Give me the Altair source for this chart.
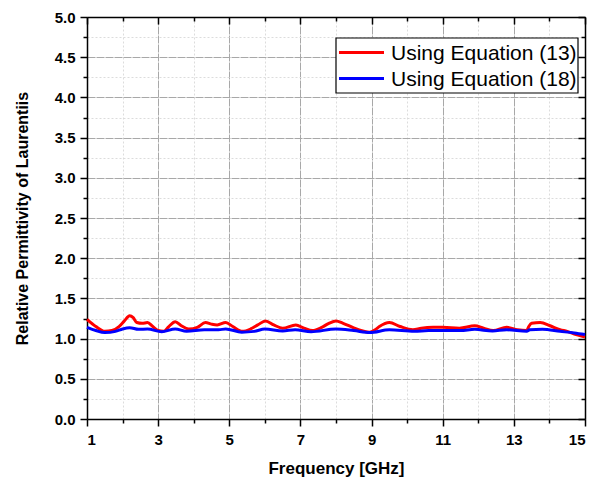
import altair as alt
import pandas as pd

series_names = ["Using Equation (13)", "Using Equation (18)"]
series_colors = ["#ff0000", "#0000ff"]

red_f = [1.0, 1.25, 1.5, 1.7, 1.9, 2.05, 2.2, 2.3, 2.4, 2.55, 2.7, 2.85, 3.0, 3.15, 3.3, 3.48, 3.65, 3.86,
         4.1, 4.33, 4.5, 4.66, 4.9, 5.1, 5.37, 5.6, 5.8, 6.02, 6.25, 6.5, 6.87, 7.1, 7.34, 7.6, 7.8, 8.0,
         8.2, 8.47, 8.7, 8.94, 9.1, 9.22, 9.5, 9.8, 10.16, 10.4, 10.73, 11.0, 11.47, 11.9, 12.15, 12.42,
         12.8, 13.1, 13.36, 13.42, 13.5, 13.74, 14.02, 14.3, 14.5, 14.75, 15.0]
red_v = [1.24, 1.15, 1.09, 1.10, 1.15, 1.22, 1.285, 1.26, 1.20, 1.19, 1.20, 1.15, 1.10, 1.09, 1.15, 1.21, 1.16, 1.12,
         1.14, 1.20, 1.18, 1.17, 1.20, 1.15, 1.09, 1.12, 1.17, 1.22, 1.17, 1.13, 1.17, 1.13, 1.10, 1.14, 1.19, 1.22,
         1.19, 1.14, 1.10, 1.08, 1.11, 1.15, 1.20, 1.15, 1.11, 1.13, 1.14, 1.14, 1.13, 1.16, 1.13, 1.10,
         1.14, 1.11, 1.10, 1.15, 1.19, 1.20, 1.16, 1.11, 1.09, 1.05, 1.02]

blue_f = [1.0, 1.25, 1.5, 1.8, 2.0, 2.2, 2.45, 2.7, 3.1, 3.48, 3.8, 4.3, 4.7, 4.9, 5.35, 5.7, 6.0, 6.5, 6.85,
          7.3, 8.0, 8.5, 8.95, 9.5, 10.2, 10.6, 11.5, 11.9, 12.4, 12.8, 13.36, 13.45, 13.8, 14.3, 14.7, 15.0]
blue_v = [1.14, 1.10, 1.075, 1.09, 1.12, 1.135, 1.115, 1.12, 1.085, 1.12, 1.09, 1.11, 1.11, 1.12, 1.08, 1.09, 1.12,
          1.095, 1.11, 1.085, 1.12, 1.10, 1.075, 1.11, 1.09, 1.10, 1.10, 1.115, 1.095, 1.11, 1.09, 1.11, 1.115,
          1.09, 1.07, 1.05]

x_major = [1, 3, 5, 7, 9, 11, 13, 15]
x_minor = [2, 4, 6, 8, 10, 12, 14]
y_major = [0.0, 0.5, 1.0, 1.5, 2.0, 2.5, 3.0, 3.5, 4.0, 4.5, 5.0]
y_minor = [0.25, 0.75, 1.25, 1.75, 2.25, 2.75, 3.25, 3.75, 4.25, 4.75]

df = pd.concat([
    pd.DataFrame({"f": red_f, "v": red_v, "s": series_names[0]}),
    pd.DataFrame({"f": blue_f, "v": blue_v, "s": series_names[1]}),
])

FONT = "Liberation Sans"
W, H = 498, 402
xs = alt.Scale(domain=[1, 15], nice=False, zero=False)
ys = alt.Scale(domain=[0, 5], nice=False)

lines = alt.Chart(df).mark_line(interpolate="monotone", strokeWidth=3).encode(
    x=alt.X("f:Q", scale=xs, axis=alt.Axis(
        values=x_major, format="d", title="Frequency [GHz]", orient="bottom",
        grid=True, gridColor="#a8a8a8", gridWidth=1, gridDash=[8, 1],
        tickSize=7, tickColor="#000", tickWidth=1.5, domainColor="#000", domainWidth=1.5,
        labelFont=FONT, labelFontSize=15, labelFontWeight="bold", labelColor="#000", labelPadding=6,
        titleFont=FONT, titleFontSize=17, titleFontWeight="bold", titleColor="#000", titlePadding=13)),
    y=alt.Y("v:Q", scale=ys, axis=alt.Axis(
        values=y_major, format=".1f", title="Relative Permittivity of Laurentiis", orient="left",
        grid=True, gridColor="#a8a8a8", gridWidth=1, gridDash=[8, 1],
        tickSize=7, tickColor="#000", tickWidth=1.5, domainColor="#000", domainWidth=1.5,
        labelFont=FONT, labelFontSize=15, labelFontWeight="bold", labelColor="#000", labelPadding=5,
        titleFont=FONT, titleFontSize=16, titleFontWeight="bold", titleColor="#000", titlePadding=24)),
    color=alt.Color("s:N", scale=alt.Scale(domain=series_names, range=series_colors), legend=None),
)

minor = alt.Chart(df).mark_point(opacity=0).encode(
    x=alt.X("f:Q", scale=xs, axis=alt.Axis(
        values=x_minor, labels=False, title=None, domain=False, orient="bottom",
        grid=True, gridColor="#dcdcdc", gridDash=[2, 2], tickSize=4, tickColor="#000", tickWidth=1.5)),
    y=alt.Y("v:Q", scale=ys, axis=alt.Axis(
        values=y_minor, labels=False, title=None, domain=False, orient="left",
        grid=True, gridColor="#dcdcdc", gridDash=[2, 2], tickSize=4, tickColor="#000", tickWidth=1.5)),
)

frame_major = alt.Chart(df).mark_point(opacity=0).encode(
    x=alt.X("f:Q", scale=xs, axis=alt.Axis(
        values=x_major, labels=False, title=None, orient="bottom", offset=-H,
        domainColor="#000", domainWidth=1.5, tickSize=7, tickColor="#000", tickWidth=1.5, grid=False)),
    y=alt.Y("v:Q", scale=ys, axis=alt.Axis(
        values=y_major, labels=False, title=None, orient="left", offset=-W,
        domainColor="#000", domainWidth=1.5, tickSize=7, tickColor="#000", tickWidth=1.5, grid=False)),
)

frame_minor = alt.Chart(df).mark_point(opacity=0).encode(
    x=alt.X("f:Q", scale=xs, axis=alt.Axis(
        values=x_minor, labels=False, title=None, orient="bottom", offset=-H, domain=False,
        tickSize=4, tickColor="#000", tickWidth=1.5, grid=False)),
    y=alt.Y("v:Q", scale=ys, axis=alt.Axis(
        values=y_minor, labels=False, title=None, orient="left", offset=-W, domain=False,
        tickSize=4, tickColor="#000", tickWidth=1.5, grid=False)),
)

# legend box (drawn by hand so its size matches the original)
leg_df = pd.DataFrame({"s": series_names})
legend_box = alt.Chart(leg_df).transform_filter(alt.datum.s == series_names[0]).mark_rect(
    fill="#ffffff", stroke="#000000", strokeWidth=1.2
).encode(x=alt.value(249), x2=alt.value(491), y=alt.value(21), y2=alt.value(76))

legend_layers = [legend_box]
row_y = [35.5, 61.5]
for name, col, ry in zip(series_names, series_colors, row_y):
    sym = alt.Chart(leg_df).transform_filter(alt.datum.s == name).mark_rule(
        color=col, strokeWidth=3
    ).encode(x=alt.value(252), x2=alt.value(297), y=alt.value(ry))
    txt = alt.Chart(leg_df).transform_filter(alt.datum.s == name).mark_text(
        align="left", baseline="middle", font=FONT, fontSize=21, color="#000000"
    ).encode(x=alt.value(304), y=alt.value(ry + 1), text="s:N")
    legend_layers += [sym, txt]

chart = alt.layer(minor, frame_major, frame_minor, lines, *legend_layers).resolve_axis(
    x="independent", y="independent"
).properties(
    width=W, height=H,
    autosize=alt.AutoSizeParams(type="none"),
    padding={"left": 79, "top": 9, "right": 15, "bottom": 61},
).configure_view(stroke=None).configure(background="#ffffff")

chart.save("out.html", embed_options={"renderer": "svg", "actions": False})
